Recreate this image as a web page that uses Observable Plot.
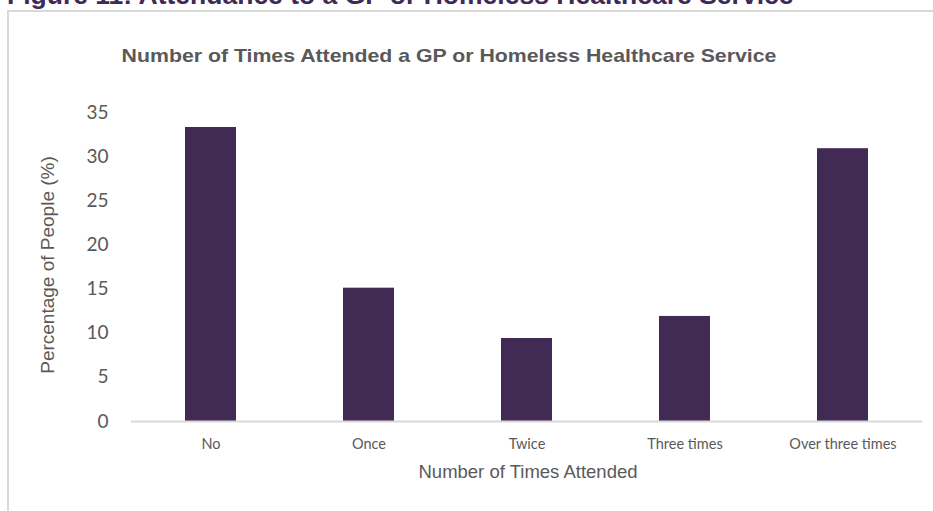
<!DOCTYPE html>
<html>
<head>
<meta charset="utf-8">
<script src="https://cdn.jsdelivr.net/npm/d3@7"></script>
<script src="https://cdn.jsdelivr.net/npm/@observablehq/plot@0.6"></script>
<style>
  html, body { margin: 0; padding: 0; background: #fff; }
  #wrap { position: relative; width: 933px; height: 511px; overflow: hidden; background: #fff; }
  #figtitle { position: absolute; left: 7px; top: -20px; font: bold 26.5px "Liberation Sans", Arial, sans-serif; color: #3f2a56; white-space: nowrap; }
  #frame { position: absolute; left: 7px; top: 10px; width: 1000px; height: 600px; border: 2px solid #d9d9d9; box-sizing: border-box; }
  #ctitle { position: absolute; left: 449px; top: 56px; transform: translate(-50%, -50%) scaleX(1.12); font: bold 19px "Liberation Sans", Arial, sans-serif; color: #595959; white-space: nowrap; }
  #ytitle { position: absolute; left: 48px; top: 265px; transform: translate(-50%, -50%) rotate(-90deg); font: 19px "Liberation Sans", Arial, sans-serif; color: #595959; white-space: nowrap; }
  #xtitle { position: absolute; left: 528px; top: 472px; transform: translate(-50%, -50%); font: 18.5px "Liberation Sans", Arial, sans-serif; color: #595959; white-space: nowrap; }
  #chart { position: absolute; left: 0; top: 80px; }
</style>
</head>
<body>
<div id="wrap">
  <div id="figtitle">Figure 11: Attendance to a GP or Homeless Healthcare Service</div>
  <div id="frame"></div>
  <div id="ctitle">Number of Times Attended a GP or Homeless Healthcare Service</div>
  <div id="chart"></div>
  <div id="ytitle">Percentage of People (%)</div>
  <div id="xtitle">Number of Times Attended</div>
</div>
<script>
const categories = ["No", "Once", "Twice", "Three times", "Over three times"];
const values = [33.3, 15.1, 9.4, 11.9, 30.9];
const yTicks = [0, 5, 10, 15, 20, 25, 30, 35];

const data = categories.map((c, i) => ({category: c, value: values[i]}));

const chart = Plot.plot({
  width: 933,
  height: 431,
  marginTop: 32,
  marginBottom: 90,
  marginLeft: 131,
  marginRight: 11,
  style: {background: "transparent", color: "#595959"},
  x: {domain: categories, paddingInner: 0.68, paddingOuter: 0.34, label: null},
  y: {domain: [0, 35], label: null},
  marks: [
    Plot.axisY({ticks: yTicks, tickSize: 0, tickPadding: 23, fontSize: 19, fontFamily: "Lato, 'Open Sans', sans-serif", label: null}),
    Plot.axisX({tickSize: 0, tickPadding: 17, fontSize: 14.5, fontFamily: "Lato, 'Open Sans', sans-serif", label: null}),
    Plot.barY(data, {x: "category", y: "value", fill: "#412b55"}),
    Plot.ruleY([0], {stroke: "#d9d9d9", strokeWidth: 2})
  ]
});
document.getElementById("chart").appendChild(chart);
</script>
</body>
</html>
